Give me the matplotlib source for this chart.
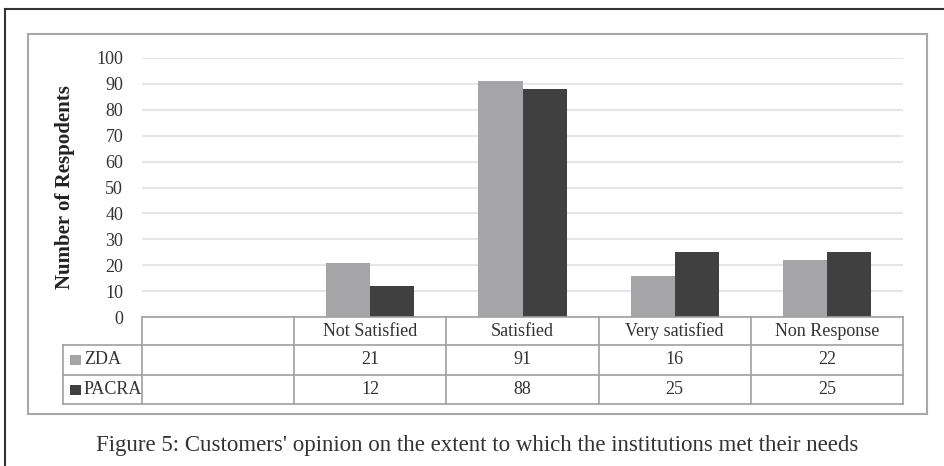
import matplotlib
matplotlib.use("Agg")
import matplotlib.pyplot as plt
from matplotlib.patches import Rectangle
from matplotlib.lines import Line2D

categories = ["", "Not Satisfied", "Satisfied", "Very satisfied", "Non Response"]
series_names = ["ZDA", "PACRA"]
zda = [None, 21, 91, 16, 22]
pacra = [None, 12, 88, 25, 25]
series_values = [zda, pacra]
series_colors = ["#A5A5A7", "#404040"]
yticks = [0, 10, 20, 30, 40, 50, 60, 70, 80, 90, 100]
ylabel = "Number of Respodents"
caption = "Figure 5: Customers' opinion on the extent to which the institutions met their needs"

W, H = 945, 466
fig = plt.figure(figsize=(W / 100, H / 100), dpi=100)
fig.patch.set_facecolor("white")
plt.rcParams['font.family'] = ['Liberation Serif', 'DejaVu Serif']

def fx(px):
    return px / W

def fy(py):
    return 1 - py / H

TXT = "#333333"
FS = 13

# axes area in pixels
L, R, T, B = 142, 903, 58, 317
ax = fig.add_axes([fx(L), fy(B), fx(R - L), (B - T) / H])
ax.set_xlim(-0.5, len(categories) - 0.5)
ax.set_ylim(0, 100)
ax.set_yticks(yticks)
ax.set_yticklabels([str(t) for t in yticks], fontsize=FS, color=TXT)
ax.tick_params(axis="y", length=0, pad=13.5)
ax.set_xticks([])
for s in ax.spines.values():
    s.set_visible(False)
ax.grid(axis="y", color="#E6E6E6", linewidth=1.5)
ax.set_axisbelow(True)

bw = 0.29
for si, (vals, col) in enumerate(zip(series_values, series_colors)):
    for ci, v in enumerate(vals):
        if v is None:
            continue
        x0 = ci - bw if si == 0 else ci
        ax.bar(x0, v, width=bw, align="edge", color=col, zorder=3)

ax.set_ylabel(ylabel, fontsize=15, fontweight="bold", color="#222222")
ax.yaxis.set_label_coords((75 - L) / (R - L), 0.5)

# table
def ay(py):
    return (B - py) / (B - T)

row_y = [317, 345, 375, 404]
line_kw = dict(color="#A0A0A0", linewidth=1.2, transform=ax.transAxes, clip_on=False, zorder=4)
leg_left = (63 - L) / (R - L)
ax.add_line(Line2D([0, 1], [ay(row_y[0])] * 2, **line_kw))
for py in row_y[1:]:
    ax.add_line(Line2D([leg_left, 1], [ay(py)] * 2, **line_kw))
ax.add_line(Line2D([leg_left, leg_left], [ay(row_y[1]), ay(row_y[3])], **line_kw))
n = len(categories)
for k in range(n + 1):
    xa = k / n
    ax.add_line(Line2D([xa, xa], [ay(row_y[0]), ay(row_y[3])], **line_kw))

for ci, c in enumerate(categories):
    ax.text((ci + 0.5) / n, ay((row_y[0] + row_y[1]) / 2), c, transform=ax.transAxes,
            ha="center", va="center", fontsize=FS, color=TXT)
for si, (name, vals, col) in enumerate(zip(series_names, series_values, series_colors)):
    ymid = (row_y[si + 1] + row_y[si + 2]) / 2
    yc = ay(ymid)
    fig.patches.append(Rectangle((fx(70), fy(ymid + 5)), fx(11), 10 / H,
                                 transform=fig.transFigure,
                                 facecolor=col, edgecolor="none"))
    ax.text((84 - L) / (R - L), yc, name, transform=ax.transAxes, ha="left", va="center",
            fontsize=FS, color=TXT)
    for ci, v in enumerate(vals):
        if v is None:
            continue
        ax.text((ci + 0.5) / n, yc, str(v), transform=ax.transAxes,
                ha="center", va="center", fontsize=FS, color=TXT)

# frames
fig.patches.append(Rectangle((fx(28), fy(414)), fx(927 - 28), (414 - 34) / H,
                             transform=fig.transFigure, facecolor="none",
                             edgecolor="#A8A8A8", linewidth=1.5))
fig.lines.append(Line2D([fx(5), 1], [fy(9), fy(9)], transform=fig.transFigure,
                        color="#333333", linewidth=1.5))
fig.lines.append(Line2D([fx(5), fx(5)], [fy(9), 0], transform=fig.transFigure,
                        color="#333333", linewidth=1.5))

fig.text(fx(477), fy(446), caption, ha="center", va="center", fontsize=16.5, color=TXT)

fig.savefig("out.png", dpi=100)
